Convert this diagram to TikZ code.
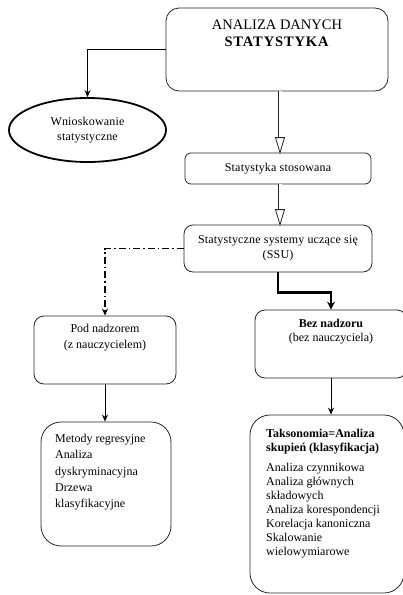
\documentclass[tikz,border=0pt]{standalone}
\usepackage{fontspec}
\setmainfont{Liberation Serif}
\usetikzlibrary{arrows.meta,shapes.geometric}

\begin{document}
\begin{tikzpicture}[x=1pt,y=-1pt,>={Stealth[length=7pt,width=6pt]},
  font=\fontsize{12}{15}\selectfont\addfontfeatures{LetterSpace=1.5},
  box/.style={draw=black!85,line width=.8pt,rounded corners=10pt},
  txt/.style={inner sep=0pt,align=center},
  list/.style={inner sep=0pt,align=left,anchor=north west},
  heavy/.style={->,line width=1.6pt},
  slim/.style={->,line width=.9pt},
  hollow/.style={draw=black!85,line width=.8pt,double,double distance=3pt},
  hollowhead/.style={draw=black!85,line width=.8pt,fill=white,line join=miter}]
  \useasboundingbox (0,0) rectangle (403,595);
  \coordinate (d) at (280,0);
  \node[box,minimum width=222pt,minimum height=83pt,rounded corners=13pt] (top) at (277,49.5) {};
  \node[txt,font=\fontsize{14.5}{17}\selectfont] (topt) at (277,33.5) {ANALIZA DANYCH\\\textbf{\addfontfeatures{LetterSpace=6}STATYSTYKA}};
  \node[ellipse,draw,line width=1.8pt,minimum width=157pt,minimum height=64pt,align=center,inner sep=0pt] (wn) at (87.5,130) {Wnioskowanie\\statystyczne};
  \node[box,minimum width=186pt,minimum height=31pt,rounded corners=6pt] (stos) at (278,168.5) {Statystyka stosowana};
  \node[box,minimum width=188pt,minimum height=47pt,rounded corners=9pt,align=center] (ssu) at (278,248.5) {Statystyczne systemy uczące się\\(SSU)};
  \node[box,minimum width=142pt,minimum height=68pt] (pod) at (105,350) {};
  \node[txt,font=\fontsize{12}{16}\selectfont] (podt) at (105,338) {Pod nadzorem\\(z nauczycielem)};
  \node[box,minimum width=152pt,minimum height=68pt] (bez) at (331,344) {};
  \node[txt,font=\fontsize{12}{14}\selectfont] (bezt) at (331,332) {\textbf{Bez nadzoru}\\(bez nauczyciela)};
  \node[box,minimum width=130pt,minimum height=124pt,rounded corners=20pt] (met) at (106,484) {};
  \node[list,font=\fontsize{12}{16.3}\selectfont] (mett) at (55,434) {Metody regresyjne\\Analiza\\dyskryminacyjna\\Drzewa\\klasyfikacyjne};
  \node[box,minimum width=154pt,minimum height=178pt,rounded corners=20pt] (taks) at (327,504) {};
  \node[list,font=\fontsize{12}{14}\selectfont] (takst) at (266,429) {\textbf{Taksonomia=Analiza}\\\textbf{skupień (klasyfikacja)}\\[6pt]Analiza czynnikowa\\Analiza głównych\\składowych\\Analiza korespondencji\\Korelacja kanoniczna\\Skalowanie\\wielowymiarowe};
  \draw[heavy] (top.west) -| (wn.north);
  \draw[hollow] (d |- top.south) -- ([yshift=15pt]d |- stos.north);
  \draw[hollowhead] ([xshift=-4.5pt,yshift=15pt]d |- stos.north) -- (d |- stos.north) -- ([xshift=4.5pt,yshift=15pt]d |- stos.north) -- cycle;
  \draw[hollow] (d |- stos.south) -- ([yshift=15pt]d |- ssu.north);
  \draw[hollowhead] ([xshift=-4.5pt,yshift=15pt]d |- ssu.north) -- (d |- ssu.north) -- ([xshift=4.5pt,yshift=15pt]d |- ssu.north) -- cycle;
  \draw[heavy,dash pattern=on 7pt off 3pt on 1.5pt off 3pt] (ssu.west) -| (pod.north);
  \draw[->,line width=2.6pt,>={Stealth[length=8pt,width=8pt]}] (ssu.south) -- ++(0,20) -| (bez.north);
  \draw[slim] (pod.south) -- (pod.south |- met.north);
  \draw[slim] (bez.south) -- (bez.south |- taks.north);
\end{tikzpicture}
\end{document}
